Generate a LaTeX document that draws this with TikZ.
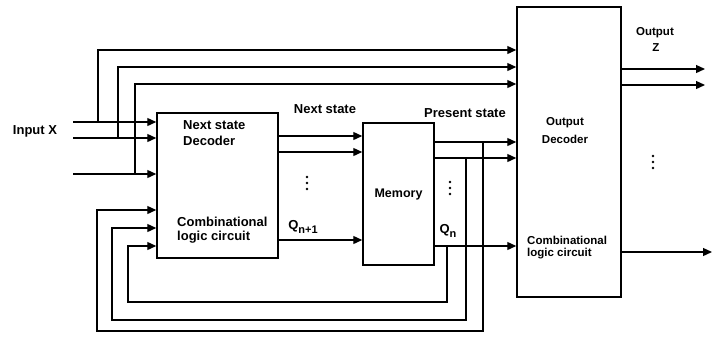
\documentclass[tikz,border=0pt]{standalone}
\usepackage{fontspec}
\setmainfont{Liberation Sans}
\usetikzlibrary{arrows.meta}
\newcommand{\mysub}[1]{\raisebox{-3.5pt}{\fontsize{11}{12}\selectfont #1}}
\begin{document}
\begin{tikzpicture}[x=1pt,y=-1pt,
  wire/.style={line width=1.3pt},
  arr/.style={wire,-{Triangle[length=9pt,width=8pt]}},
  blk/.style={draw,line width=1.5pt,inner sep=0pt},
  lbl/.style={font=\bfseries\fontsize{13}{15}\selectfont,inner sep=0pt},
  lbls/.style={font=\bfseries\fontsize{11.5}{13}\selectfont,inner sep=0pt},
  dotc/.style={circle,fill,inner sep=0pt,minimum size=2.6pt}]
\useasboundingbox (0,0) rectangle (716,341);
% blocks
\node[blk,minimum width=121pt,minimum height=145pt] (nsd) at (217.5,185.5) {};
\node[blk,minimum width=71pt,minimum height=142pt,font=\bfseries\fontsize{12.5}{15}\selectfont] (mem) at (398.5,194) {Memory};
\node[blk,minimum width=104pt,minimum height=290pt] (out) at (569,152) {};
% block texts
\node[lbl,anchor=west] (t1) at (183,125) {Next state};
\node[lbl,anchor=west] (t2) at (183,141) {Decoder};
\node[lbl,anchor=west] (t3) at (177,222) {Combinational};
\node[lbl,anchor=west] (t4) at (177,237) {logic circuit};
\node[lbls] (t5) at (565,123) {Output};
\node[lbls] (t6) at (565,139) {Decoder};
\node[lbls,anchor=west] (t7) at (527,240) {Combinational};
\node[lbls,anchor=west] (t8) at (527,254) {logic circuit};
% labels
\node[lbl] (lx) at (35,131) {Input X};
\node[lbl] (lns) at (325,109) {Next state};
\node[lbl] (lps) at (465,113) {Present state};
\node[lbl] (lq1) at (303,227) {Q\mysub{n+1}};
\node[lbl] (lq) at (448,231) {Q\mysub{n}};
\node[lbls] (lo) at (655,33) {Output};
\node[lbls] (lz) at (656,48) {Z};
% vertical dots
\foreach \cx/\cy/\k in {307/183/a,450/188/b,653/162/c}{
  \node[dotc] (\k1) at (\cx,\cy-6) {};
  \node[dotc] (\k2) at (\cx,\cy) {};
  \node[dotc] (\k3) at (\cx,\cy+6) {};
}
% inputs
\coordinate (x1) at (73,122);
\coordinate (x2) at (73,138);
\coordinate (x3) at (73,174);
\draw[arr] (x1) -- (x1 -| nsd.west);
\draw[arr] (x2) -- (x2 -| nsd.west);
\draw[arr] (x3) -- (x3 -| nsd.west);
% bypass to output decoder
\coordinate (a1) at (98,122);  \coordinate (a1t) at (98,50);
\coordinate (a2) at (118,138); \coordinate (a2t) at (118,67);
\coordinate (a3) at (135,174); \coordinate (a3t) at (135,84);
\draw[arr] (a1) -- (a1t) -- (a1t -| out.west);
\draw[arr] (a2) -- (a2t) -- (a2t -| out.west);
\draw[arr] (a3) -- (a3t) -- (a3t -| out.west);
% next state
\coordinate (n1) at (300,136);
\coordinate (n2) at (300,152);
\coordinate (n3) at (300,240);
\draw[arr] (n1 -| nsd.east) -- (n1 -| mem.west);
\draw[arr] (n2 -| nsd.east) -- (n2 -| mem.west);
\draw[arr] (n3 -| nsd.east) -- (n3 -| mem.west);
% present state
\coordinate (f1) at (483,142);
\coordinate (f2) at (466,158);
\coordinate (f3) at (447,246);
\draw[arr] (f1 -| mem.east) -- (f1 -| out.west);
\draw[arr] (f2 -| mem.east) -- (f2 -| out.west);
\draw[arr] (f3 -| mem.east) -- (f3 -| out.west);
% feedback
\coordinate (g1) at (97,331);  \coordinate (h1) at (97,210);
\coordinate (g2) at (112,320); \coordinate (h2) at (112,228);
\coordinate (g3) at (128,302); \coordinate (h3) at (128,246);
\draw[arr] (f1) |- (g1) -- (h1) -- (h1 -| nsd.west);
\draw[arr] (f2) |- (g2) -- (h2) -- (h2 -| nsd.west);
\draw[arr] (f3) |- (g3) -- (h3) -- (h3 -| nsd.west);
% outputs
\coordinate (z1) at (705,69);
\coordinate (z2) at (705,85);
\coordinate (z3) at (712,252);
\draw[arr] (z1 -| out.east) -- (z1);
\draw[arr] (z2 -| out.east) -- (z2);
\draw[arr] (z3 -| out.east) -- (z3);
\end{tikzpicture}
\end{document}
